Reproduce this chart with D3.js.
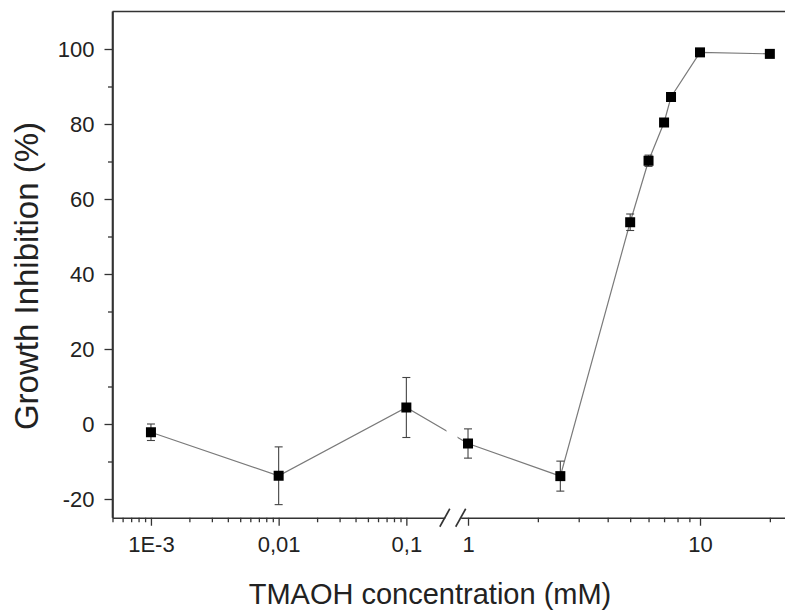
<!DOCTYPE html>
<html>
<head>
<meta charset="utf-8">
<script src="https://cdn.jsdelivr.net/npm/d3@7"></script>
<style>
  body { margin: 0; background: #fff; }
  svg { display: block; }
  text { font-family: Arial, "Liberation Sans", sans-serif; fill: #222; }
</style>
</head>
<body>
<svg id="chart" width="785" height="612"></svg>
<script>
// TMAOH concentration (mM) and measured growth inhibition (%) with error
const concentrations = [0.001, 0.01, 0.1, 1, 2.5, 5, 6, 7, 7.5, 10, 20];
const inhibition     = [-2.2, -13.8, 4.4, -5.2, -13.9, 53.8, 70.2, 80.4, 87.2, 99.1, 98.7];
const errors         = [2.2, 7.7, 8.0, 3.9, 4.0, 2.2, 1.5, 1.0, 1.0, 0.6, 0.6];

// axis ticks
const yTicks = [-20, 0, 20, 40, 60, 80, 100];
const yMinorTicks = [-10, 10, 30, 50, 70, 90];
const xTicksLow = [0.001, 0.01, 0.1];
const xTickLabelsLow = ["1E-3", "0,01", "0,1"];
const xMinorLow = [5e-4, 6e-4, 7e-4, 8e-4, 9e-4,
                   2e-3, 3e-3, 4e-3, 5e-3, 6e-3, 7e-3, 8e-3, 9e-3,
                   0.02, 0.03, 0.04, 0.05, 0.06, 0.07, 0.08, 0.09];
const xTicksHigh = [1, 10];
const xTickLabelsHigh = ["1", "10"];
const xMinorHigh = [2, 3, 4, 5, 6, 7, 8, 9, 20];

const svg = d3.select("#chart");

const plotLeft = 112.5, plotTop = 11.5, plotBottom = 517.75, plotRight = 812;
const breakLo = 444.8, breakHi = 460.7;

const y = d3.scaleLinear().domain([-25, 110]).range([plotBottom, plotTop]);
// broken log axis: two segments on either side of the break
const xLow = d3.scaleLog().domain([5e-4, 0.2]).range([plotLeft, breakLo]);
const xHigh = d3.scaleLog().domain([0.93, 30]).range([breakHi, 810.7]);
const x = v => (v < 0.5 ? xLow(v) : xHigh(v));

const axisColor = "#333";
const axisWidth = 1.6;
const tickFont = 22;

// frame: left and top
svg.append("line").attr("x1", plotLeft).attr("x2", plotLeft).attr("y1", plotTop).attr("y2", plotBottom)
  .attr("stroke", axisColor).attr("stroke-width", axisWidth);
svg.append("line").attr("x1", plotLeft).attr("x2", plotRight).attr("y1", plotTop).attr("y2", plotTop)
  .attr("stroke", axisColor).attr("stroke-width", axisWidth);

function styleAxis(g) {
  g.selectAll("path.domain").attr("stroke", axisColor).attr("stroke-width", axisWidth);
  g.selectAll(".tick line").attr("stroke", axisColor).attr("stroke-width", 1.3);
  g.selectAll(".tick text").attr("fill", "#222")
    .style("font-family", "Arial, 'Liberation Sans', sans-serif");
}

// y axis (plain hyphen for negatives)
const yAxisG = svg.append("g").attr("transform", `translate(${plotLeft},0)`)
  .call(d3.axisLeft(y).tickValues(yTicks).tickSize(8).tickSizeOuter(0).tickPadding(10)
    .tickFormat(d => String(d)))
  .attr("font-size", tickFont);
styleAxis(yAxisG);
const yMinorG = svg.append("g").attr("transform", `translate(${plotLeft},0)`)
  .call(d3.axisLeft(y).tickValues(yMinorTicks).tickSize(4.5).tickSizeOuter(0).tickFormat(""));
styleAxis(yMinorG);
yMinorG.select("path.domain").remove();

// x axis, low segment
const xLowG = svg.append("g").attr("transform", `translate(0,${plotBottom})`)
  .call(d3.axisBottom(xLow).tickValues(xTicksLow).tickSize(8).tickSizeOuter(0).tickPadding(11)
    .tickFormat((d, i) => xTickLabelsLow[i]))
  .attr("font-size", tickFont);
styleAxis(xLowG);
const xLowMinorG = svg.append("g").attr("transform", `translate(0,${plotBottom})`)
  .call(d3.axisBottom(xLow).tickValues(xMinorLow).tickSize(4.5).tickSizeOuter(0).tickFormat(""));
styleAxis(xLowMinorG);
xLowMinorG.select("path.domain").remove();

// x axis, high segment
const xHighG = svg.append("g").attr("transform", `translate(0,${plotBottom})`)
  .call(d3.axisBottom(xHigh).tickValues(xTicksHigh).tickSize(8).tickSizeOuter(0).tickPadding(11)
    .tickFormat((d, i) => xTickLabelsHigh[i]))
  .attr("font-size", tickFont);
styleAxis(xHighG);
const xHighMinorG = svg.append("g").attr("transform", `translate(0,${plotBottom})`)
  .call(d3.axisBottom(xHigh).tickValues(xMinorHigh).tickSize(4.5).tickSizeOuter(0).tickFormat(""));
styleAxis(xHighMinorG);
xHighMinorG.select("path.domain").remove();

// break marks
[breakLo, breakHi].forEach(bx => {
  svg.append("line")
    .attr("x1", bx - 5).attr("y1", plotBottom + 9)
    .attr("x2", bx + 5).attr("y2", plotBottom - 9)
    .attr("stroke", axisColor).attr("stroke-width", 1.6);
});

// clip the connecting line at the axis break
const defs = svg.append("defs");
const clip = defs.append("clipPath").attr("id", "breakClip");
clip.append("rect").attr("x", 0).attr("y", 0).attr("width", 446.5).attr("height", 612);
clip.append("rect").attr("x", 457.5).attr("y", 0).attr("width", 400).attr("height", 612);

const pts = concentrations.map((c, i) => ({ c, v: inhibition[i], e: errors[i] }));

svg.append("path")
  .datum(pts)
  .attr("clip-path", "url(#breakClip)")
  .attr("fill", "none")
  .attr("stroke", "#7a7a7a")
  .attr("stroke-width", 1.2)
  .attr("d", d3.line().x(d => x(d.c)).y(d => y(d.v)));

// error bars
const eb = svg.append("g").attr("stroke", "#444").attr("stroke-width", 1.1);
pts.forEach(d => {
  const cx = x(d.c);
  eb.append("line").attr("x1", cx).attr("x2", cx).attr("y1", y(d.v - d.e)).attr("y2", y(d.v + d.e));
  eb.append("line").attr("x1", cx - 4).attr("x2", cx + 4).attr("y1", y(d.v - d.e)).attr("y2", y(d.v - d.e));
  eb.append("line").attr("x1", cx - 4).attr("x2", cx + 4).attr("y1", y(d.v + d.e)).attr("y2", y(d.v + d.e));
});

// square markers
svg.append("g").selectAll("rect")
  .data(pts).join("rect")
  .attr("x", d => x(d.c) - 5)
  .attr("y", d => y(d.v) - 5)
  .attr("width", 10).attr("height", 10)
  .attr("fill", "#000");

// axis titles
svg.append("text")
  .attr("x", 430).attr("y", 604)
  .attr("text-anchor", "middle")
  .attr("font-size", 29)
  .text("TMAOH concentration (mM)");

svg.append("text")
  .attr("transform", "translate(38,276) rotate(-90)")
  .attr("text-anchor", "middle")
  .attr("font-size", 33)
  .text("Growth Inhibition (%)");
</script>
</body>
</html>
